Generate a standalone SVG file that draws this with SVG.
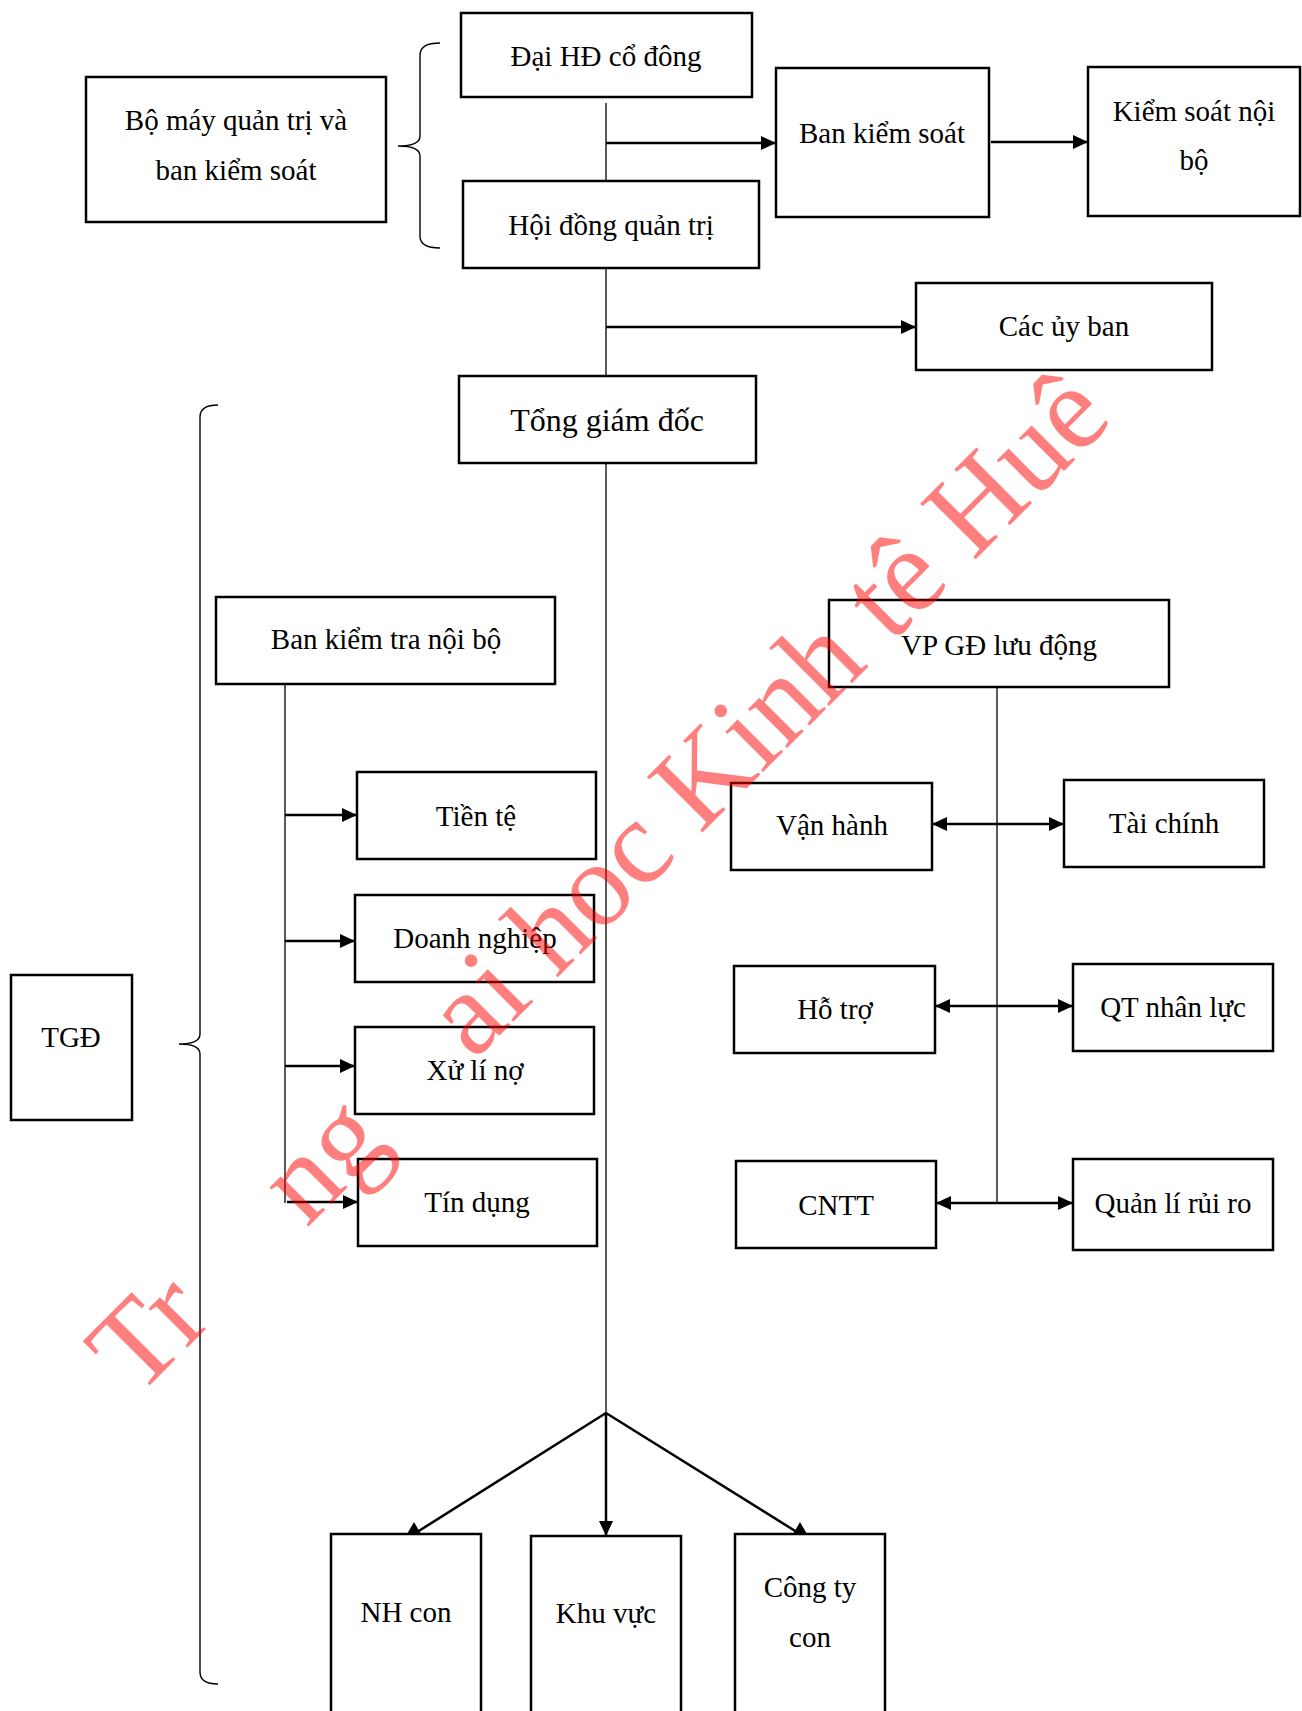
<svg xmlns="http://www.w3.org/2000/svg" width="1302" height="1711" viewBox="0 0 1302 1711">
<style>
.box{fill:#fff;stroke:#000;stroke-width:2.5}
.t{font-family:"Liberation Serif","Times New Roman",serif;font-size:29px;text-anchor:middle;fill:#000}
.big{font-size:32px}
.thin{fill:none;stroke:#000;stroke-width:1.3}
.arr{fill:none;stroke:#000;stroke-width:2.5}
.brace{fill:none;stroke:#000;stroke-width:1.4}
.wm{font-family:"Liberation Serif","Times New Roman",serif;font-size:120px;fill:#ff0000;fill-opacity:0.5}
</style>
<defs>
<marker id="ah" markerUnits="userSpaceOnUse" markerWidth="16" markerHeight="14" refX="15" refY="7" orient="auto-start-reverse">
<path d="M0,0 L15,7 L0,14 z" fill="#000"/>
</marker>
<marker id="up" markerUnits="userSpaceOnUse" markerWidth="13" markerHeight="14" refX="0" refY="7" orient="270">
<path d="M0,0 L12,7 L0,14 z" fill="#000"/>
</marker>
</defs>
<rect width="1302" height="1711" fill="#fff"/>

<g id="connectors">
<path class="thin" d="M606,103 V1413"/>
<path class="arr" d="M606,143 H776" marker-end="url(#ah)"/>
<path class="arr" d="M991,142 H1088" marker-end="url(#ah)"/>
<path class="arr" d="M606,327 H916" marker-end="url(#ah)"/>
<path class="thin" d="M285,684 V1203"/>
<path class="arr" d="M285,815 H357" marker-end="url(#ah)"/>
<path class="arr" d="M285,941 H355" marker-end="url(#ah)"/>
<path class="arr" d="M285,1066 H355" marker-end="url(#ah)"/>
<path class="arr" d="M287,1202 H358" marker-end="url(#ah)"/>
<path class="thin" d="M997,687 V1203"/>
<path class="arr" d="M932,824 H1064" marker-start="url(#ah)" marker-end="url(#ah)"/>
<path class="arr" d="M935,1006 H1073" marker-start="url(#ah)" marker-end="url(#ah)"/>
<path class="arr" d="M936,1203 H1073" marker-start="url(#ah)" marker-end="url(#ah)"/>
<path class="arr" d="M606,1413 L414,1534" marker-end="url(#up)"/>
<path class="arr" d="M606,1413 V1536" marker-end="url(#ah)"/>
<path class="arr" d="M606,1413 L800,1534" marker-end="url(#up)"/>
<path class="brace" d="M440,43 Q420,43 420,55 L420,136 Q420,146 398,146 Q420,146 420,156 L420,236 Q420,248 440,248"/>
<path class="brace" d="M218,405 Q200,405 200,417 L200,1034 Q200,1044 179,1044 Q200,1044 200,1054 L200,1672 Q200,1684 218,1684"/>
</g>

<g id="n-bomay"><rect class="box" x="86" y="77" width="300" height="145"/><text class="t" x="236" y="130">Bộ máy quản trị và</text><text class="t" x="236" y="180">ban kiểm soát</text></g>
<g id="n-daihd"><rect class="box" x="461" y="13" width="291" height="84"/><text class="t" x="606" y="66">Đại HĐ cổ đông</text></g>
<g id="n-hdqt"><rect class="box" x="463" y="181" width="296" height="87"/><text class="t" x="611" y="235">Hội đồng quản trị</text></g>
<g id="n-bks"><rect class="box" x="776" y="68" width="213" height="149"/><text class="t" x="882" y="143">Ban kiểm soát</text></g>
<g id="n-ksnb"><rect class="box" x="1088" y="67" width="212" height="149"/><text class="t" x="1194" y="121">Kiểm soát nội</text><text class="t" x="1194" y="170">bộ</text></g>
<g id="n-uyban"><rect class="box" x="916" y="283" width="296" height="87"/><text class="t" x="1064" y="336">Các ủy ban</text></g>
<g id="n-tgd"><rect class="box" x="459" y="376" width="297" height="87"/><text class="t big" x="607" y="431">Tổng giám đốc</text></g>
<g id="n-bktnb"><rect class="box" x="216" y="597" width="339" height="87"/><text class="t" x="386" y="649">Ban kiểm tra nội bộ</text></g>
<g id="n-vpgd"><rect class="box" x="829" y="600" width="340" height="87"/><text class="t" x="999" y="655">VP GĐ lưu động</text></g>
<g id="n-tiente"><rect class="box" x="357" y="772" width="239" height="87"/><text class="t" x="476" y="826">Tiền tệ</text></g>
<g id="n-dn"><rect class="box" x="355" y="895" width="239" height="87"/><text class="t" x="475" y="948">Doanh nghiệp</text></g>
<g id="n-xln"><rect class="box" x="355" y="1027" width="239" height="87"/><text class="t" x="475" y="1080">Xử lí nợ</text></g>
<g id="n-tindung"><rect class="box" x="358" y="1159" width="239" height="87"/><text class="t" x="477" y="1212">Tín dụng</text></g>
<g id="n-vanhanh"><rect class="box" x="731" y="783" width="201" height="87"/><text class="t" x="832" y="835">Vận hành</text></g>
<g id="n-taichinh"><rect class="box" x="1064" y="780" width="200" height="87"/><text class="t" x="1164" y="833">Tài chính</text></g>
<g id="n-hotro"><rect class="box" x="734" y="966" width="201" height="87"/><text class="t" x="835" y="1019">Hỗ trợ</text></g>
<g id="n-qtnl"><rect class="box" x="1073" y="964" width="200" height="87"/><text class="t" x="1173" y="1017">QT nhân lực</text></g>
<g id="n-cntt"><rect class="box" x="736" y="1161" width="200" height="87"/><text class="t" x="836" y="1215">CNTT</text></g>
<g id="n-qlrr"><rect class="box" x="1073" y="1159" width="200" height="91"/><text class="t" x="1173" y="1213">Quản lí rủi ro</text></g>
<g id="n-tgd-left"><rect class="box" x="11" y="975" width="121" height="145"/><text class="t" x="71" y="1047">TGĐ</text></g>
<g id="n-nhcon"><rect class="box" x="331" y="1534" width="150" height="190"/><text class="t" x="406" y="1622">NH con</text></g>
<g id="n-khuvuc"><rect class="box" x="531" y="1536" width="150" height="190"/><text class="t" x="606" y="1623">Khu vực</text></g>
<g id="n-congty"><rect class="box" x="735" y="1534" width="150" height="190"/><text class="t" x="810" y="1597">Công ty</text><text class="t" x="810" y="1647">con</text></g>

<g id="watermark" class="wm" transform="translate(136.8,1398.2) rotate(-45)">
<text x="0" y="0">Tr</text>
<text x="240" y="0">ng</text>
<text x="476.6" y="0">ai</text>
<text x="593" y="0">hoc</text>
<text x="796.6" y="0">Kinh</text>
<text x="1066.6" y="0">tê</text>
<text x="1183" y="0">Huê</text>
</g>
</svg>
